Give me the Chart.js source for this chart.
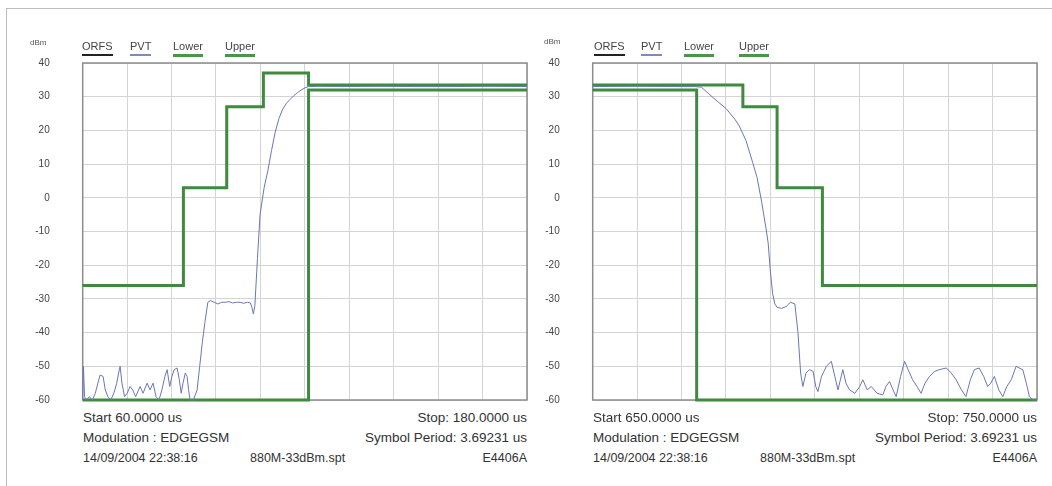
<!DOCTYPE html>
<html>
<head>
<meta charset="utf-8">
<script src="https://cdn.jsdelivr.net/npm/chart.js@4/dist/chart.umd.min.js"></script>
<style>
  html, body { margin: 0; padding: 0; background: #fff; }
  body { width: 1052px; height: 486px; position: relative; overflow: hidden;
         font-family: "Liberation Sans", Arial, sans-serif; color: #333; }
  .frame { position: absolute; left: 6px; top: 8px; width: 1060px; height: 500px;
           border-top: 1px solid #bdbdbd; border-left: 1px solid #bdbdbd; }
  canvas { position: absolute; }
  .t { position: absolute; white-space: nowrap; line-height: 1; }
  .unit { font-size: 8px; color: #555; }
  .lg { font-size: 11px; color: #444; padding-bottom: 2px; }
  .info { font-size: 13.5px; color: #333; }
  .small { font-size: 12.5px; color: #333; }
  .r { text-align: right; }
</style>
</head>
<body>
<div class="frame"></div>

<canvas id="left" width="520" height="380" style="left:20px;top:30px;width:520px;height:380px"></canvas>
<canvas id="right" width="520" height="380" style="left:530px;top:30px;width:520px;height:380px"></canvas>

<!-- left panel texts -->
<div class="t unit" style="left:30px;top:39px">dBm</div>
<div class="t lg" style="left:82px;top:41px;border-bottom:2px solid #222">ORFS</div>
<div class="t lg" style="left:130px;top:41px;border-bottom:2px solid #7f89bb">PVT</div>
<div class="t lg" style="left:173px;top:41px;border-bottom:3px solid #4b954b">Lower</div>
<div class="t lg" style="left:225px;top:41px;border-bottom:3px solid #4b954b">Upper</div>
<div class="t info" style="left:83px;top:411px">Start 60.0000 us</div>
<div class="t info" style="left:83px;top:431px">Modulation : EDGEGSM</div>
<div class="t small" style="left:83px;top:452px">14/09/2004 22:38:16</div>
<div class="t small" style="left:250px;top:452px">880M-33dBm.spt</div>
<div class="t info r" style="right:525px;top:411px">Stop: 180.0000 us</div>
<div class="t info r" style="right:525px;top:431px">Symbol Period: 3.69231 us</div>
<div class="t small r" style="right:525px;top:452px">E4406A</div>

<!-- right panel texts -->
<div class="t unit" style="left:544px;top:38px">dBm</div>
<div class="t lg" style="left:594px;top:41px;border-bottom:2px solid #222">ORFS</div>
<div class="t lg" style="left:641px;top:41px;border-bottom:2px solid #7f89bb">PVT</div>
<div class="t lg" style="left:684px;top:41px;border-bottom:3px solid #4b954b">Lower</div>
<div class="t lg" style="left:739px;top:41px;border-bottom:3px solid #4b954b">Upper</div>
<div class="t info" style="left:593px;top:411px">Start 650.0000 us</div>
<div class="t info" style="left:593px;top:431px">Modulation : EDGEGSM</div>
<div class="t small" style="left:593px;top:452px">14/09/2004 22:38:16</div>
<div class="t small" style="left:760px;top:452px">880M-33dBm.spt</div>
<div class="t info r" style="right:15px;top:411px">Stop: 750.0000 us</div>
<div class="t info r" style="right:15px;top:431px">Symbol Period: 3.69231 us</div>
<div class="t small r" style="right:15px;top:452px">E4406A</div>

<script>
// y axis (dBm)
var yTicks = [40, 30, 20, 10, 0, -10, -20, -30, -40, -50, -60];

// ---- left panel: ramp up, 60..180 us
var leftRange = [60, 180];
var leftUpperX = [60, 87.2, 87.2, 98.9, 98.9, 108.8, 108.8, 121, 121, 180];
var leftUpperY = [-26, -26, 3, 3, 27, 27, 37, 37, 33.5, 33.5];
var leftLowerX = [60, 121, 121, 180];
var leftLowerY = [-60, -60, 32, 32];
var leftPvtX = [60, 60.2, 60.5, 61, 61.8, 62.6, 63.4, 64.1, 64.7, 65.5, 66.1, 66.8, 67.6, 68.4, 69.2, 69.7, 70.1, 70.6, 71.3, 72, 72.8, 73.5, 74.3, 75.5, 76.3, 77.4, 78.2, 79, 79.8, 80.6, 81.4, 82.2, 82.8, 83.5, 84.1, 84.7, 85.5, 86.1, 86.6, 87.1, 87.7, 88.2, 88.6, 89, 89.9, 90.9, 91.6, 92.3, 93, 93.8, 94.5, 95.5, 96.5, 97.5, 98.5, 99.5, 100.5, 101.5, 102.5, 103.5, 104.5, 105.3, 105.7, 106.1, 106.5, 107.2, 107.9, 109, 110, 111, 112, 113, 114, 115, 116, 117, 118, 119, 120, 121, 124, 130, 140, 150, 160, 170, 180];
var leftPvtY = [-60, -50, -59, -60, -59, -60, -58, -55, -52.6, -53, -57, -59, -60, -58, -55, -52, -50, -55, -59, -58, -56, -57, -59, -56, -58, -55, -57, -55, -59, -60, -57, -53, -51, -56, -53, -51, -50.5, -54, -58, -55, -52, -53, -57, -60, -60, -57, -50, -43, -37, -31, -30.5, -31, -31.5, -31, -31, -30.8, -31.2, -31, -31, -31.3, -31, -31.2, -32.5, -34.5, -32, -18, -5, 3, 8, 14, 19.5, 23.5, 26.3, 28, 29.2, 30.3, 31.2, 32, 32.6, 33, 33.1, 33, 33.1, 33, 33, 33.1, 33];

// ---- right panel: ramp down, 650..750 us
var rightRange = [650, 750];
var rightUpperX = [650, 683.8, 683.8, 691.5, 691.5, 701.7, 701.7, 750];
var rightUpperY = [33.5, 33.5, 27, 27, 3, 3, -26, -26];
var rightLowerX = [650, 673.4, 673.4, 750];
var rightLowerY = [32, 32, -60, -60];
var rightPvtX = [650, 660, 670, 673, 674.5, 676, 678, 680, 682, 683, 684.5, 686, 687, 688, 689, 689.5, 690, 690.5, 691, 691.5, 692.5, 693.5, 694.5, 695.5, 696.2, 696.8, 697.3, 698, 698.8, 699.6, 700.2, 700.7, 701.5, 702.6, 703.7, 704.5, 705.2, 706.3, 707, 707.8, 709, 710.1, 710.8, 711.8, 712.7, 714, 715.3, 716, 716.8, 717.6, 718.3, 719.3, 720.2, 721, 722, 723, 723.9, 724.8, 725.8, 727, 728, 729.6, 730.7, 731.8, 733, 734, 735, 735.9, 737, 738, 738.9, 739.6, 740.4, 741.4, 742.3, 743.2, 744.2, 745.3, 746, 746.8, 747.6, 748.3, 749, 750];
var rightPvtY = [33, 33.1, 33, 33, 32.8, 31, 28.7, 26.5, 23.3, 21.3, 17, 10.5, 6, -1, -9, -13.5, -22, -28.5, -31.5, -32.5, -32.8, -32.3, -31, -31.5, -40, -52, -56, -52, -51, -51.5, -56, -57.5, -53, -50, -48.5, -53, -57, -51, -55, -57, -58, -56, -54, -57, -56, -58, -58.5, -56, -54.5, -57, -59, -53, -48.5, -51, -54, -56, -58, -55, -53, -51.5, -51, -50.5, -52, -54, -57, -59, -54, -51, -50.5, -53, -56, -55, -53, -57, -59, -56, -54, -50, -50.5, -51, -55, -59, -60, -60];

function pts(xs, ys) {
  return xs.map(function (x, i) { return { x: x, y: ys[i] }; });
}

var frameBox = {
  id: 'frameBox',
  beforeDatasetsDraw: function (chart) {
    var a = chart.chartArea, c = chart.ctx;
    c.save();
    c.strokeStyle = '#8c8c8c';
    c.lineWidth = 1.5;
    c.strokeRect(a.left, a.top, a.right - a.left, a.bottom - a.top);
    c.restore();
  }
};

function makeChart(id, range, upX, upY, loX, loY, pvX, pvY) {
  var green = '#3f8a3f';
  new Chart(document.getElementById(id).getContext('2d'), {
    type: 'line',
    data: {
      datasets: [
        { label: 'PVT', data: pts(pvX, pvY), borderColor: '#6b76b3', borderWidth: 1, pointRadius: 0, tension: 0, clip: 4 },
        { label: 'Lower', data: pts(loX, loY), borderColor: green, borderWidth: 3, pointRadius: 0, tension: 0, clip: 4 },
        { label: 'Upper', data: pts(upX, upY), borderColor: green, borderWidth: 3, pointRadius: 0, tension: 0, clip: 4 }
      ]
    },
    options: {
      responsive: false,
      animation: false,
      layout: { padding: { top: 33, right: 13, bottom: 10, left: 0 } },
      plugins: { legend: { display: false }, tooltip: { enabled: false } },
      scales: {
        x: {
          type: 'linear', min: range[0], max: range[1],
          ticks: { display: false, stepSize: (range[1] - range[0]) / 10 },
          grid: { color: '#d4d4d4', lineWidth: 1, drawTicks: false },
          border: { display: false },
          afterFit: function (s) { s.height = 0; }
        },
        y: {
          min: -60, max: 40,
          afterBuildTicks: function (s) { s.ticks = yTicks.map(function (v) { return { value: v }; }); },
          ticks: { padding: 33, color: '#444', font: { family: 'Liberation Sans', size: 10 } },
          grid: { color: '#d4d4d4', lineWidth: 1, drawTicks: false },
          border: { display: false },
          // the big tick padding would otherwise push the plot down
          afterFit: function (s) { s.width = 62.7; s.paddingTop = 0; s.paddingBottom = 0; }
        }
      }
    },
    plugins: [frameBox]
  });
}

makeChart('left', leftRange, leftUpperX, leftUpperY, leftLowerX, leftLowerY, leftPvtX, leftPvtY);
makeChart('right', rightRange, rightUpperX, rightUpperY, rightLowerX, rightLowerY, rightPvtX, rightPvtY);
</script>
</body>
</html>
